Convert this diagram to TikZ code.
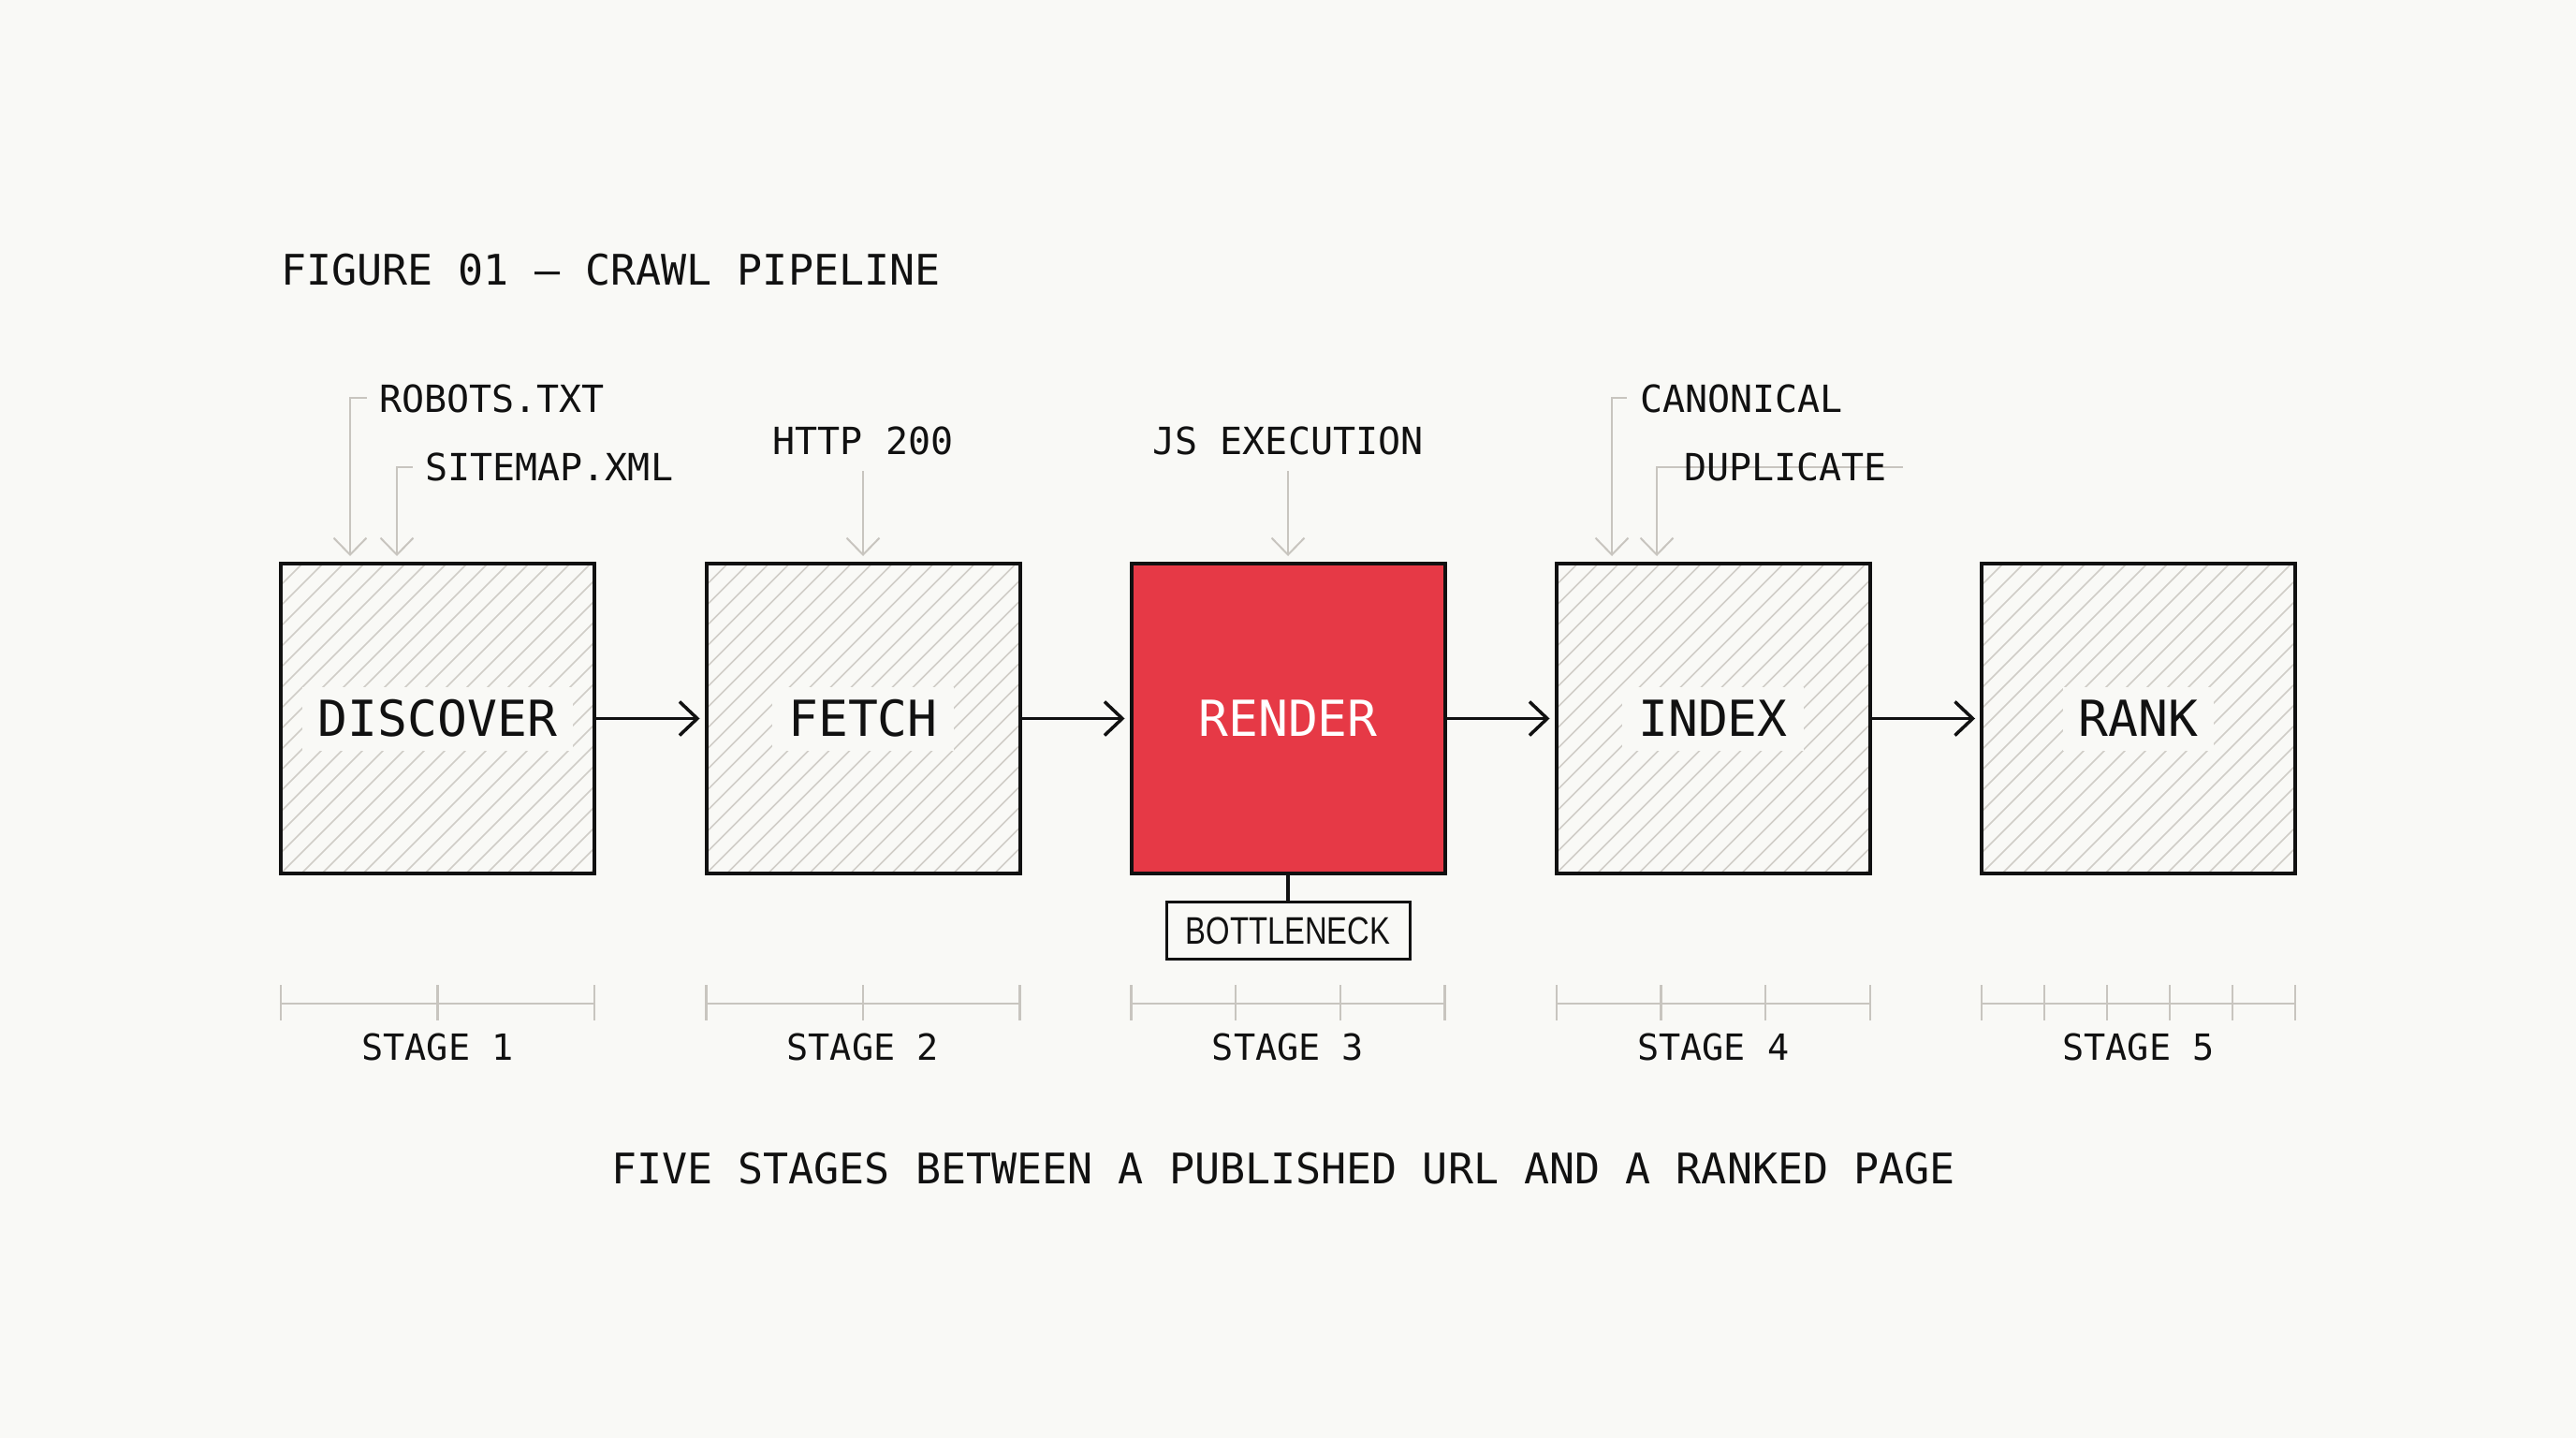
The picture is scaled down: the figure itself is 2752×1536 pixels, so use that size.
\documentclass[tikz,border=0pt]{standalone}
\usepackage{fontspec}
\newfontfamily\monof{DejaVu Sans Mono}
\newfontfamily\narrowf[FakeStretch=0.8]{Liberation Sans}
\usetikzlibrary{arrows.meta,calc}
\definecolor{bg}{HTML}{F9F9F6}
\definecolor{hatchgray}{HTML}{D0CDC7}
\definecolor{annog}{HTML}{C8C5BF}
\definecolor{accent}{HTML}{E63946}
\definecolor{ink}{HTML}{111111}
\begin{document}
\begin{tikzpicture}[x=1pt,y=-1pt,
  stagebox/.style={draw=ink,line width=4pt,minimum width=335pt,minimum height=331pt,inner sep=0pt,fill=bg,
    path picture={\foreach \k in {-17,...,17}{\draw[hatchgray,line width=1.5pt]
      ([xshift=\k*22pt]path picture bounding box.south west) -- ++(420pt,420pt);}}},
  hotbox/.style={draw=ink,line width=4pt,minimum width=335pt,minimum height=331pt,inner sep=0pt,fill=accent},
  boxlabel/.style={font=\monof\fontsize{53pt}{53pt}\selectfont,text=ink,fill=bg,inner xsep=17pt,inner ysep=15pt,text height=38pt,text depth=0pt},
  hotlabel/.style={font=\monof\fontsize{53pt}{53pt}\selectfont,text=white,inner sep=0pt},
  flow/.style={draw=ink,line width=3.5pt,-{Straight Barb[length=19pt,width=36pt]},shorten >=5pt},
  anno/.style={draw=annog,line width=2pt,-{Straight Barb[length=18pt,width=35pt]}},
  annotext/.style={font=\monof\fontsize{40pt}{40pt}\selectfont,text=ink,inner sep=0pt},
  scalebar/.style={draw=annog,line width=2.5pt},
  stagetext/.style={font=\monof\fontsize{38.5pt}{38.5pt}\selectfont,text=ink,inner sep=0pt},
  captext/.style={font=\monof\fontsize{45pt}{45pt}\selectfont,text=ink,inner sep=0pt},
  bneck/.style={draw=ink,line width=3pt,fill=bg,minimum width=260pt,minimum height=61pt,inner sep=0pt,
    font=\narrowf\fontsize{41pt}{41pt}\selectfont,text=ink}
]
\useasboundingbox (0,0) rectangle (2752,1536);
\fill[bg] (0,0) rectangle (2752,1536);

% title
\node[captext,anchor=base west] (title) at (300,304) {FIGURE 01 — CRAWL PIPELINE};

% boxes
\node[stagebox] (b1) at (467.5,767.5) {};
\node[stagebox] (b2) at (922,767.5) {};
\node[hotbox]   (b3) at (1376,767.5) {};
\node[stagebox] (b4) at (1830,767.5) {};
\node[stagebox] (b5) at (2284.5,767.5) {};

\node[boxlabel] (l1) at (b1.center) {DISCOVER};
\node[boxlabel] (l2) at (b2.center) {FETCH};
\node[hotlabel,text height=38pt,text depth=0pt] (l3) at (b3.center) {RENDER};
\node[boxlabel] (l4) at (b4.center) {INDEX};
\node[boxlabel] (l5) at (b5.center) {RANK};

% flow arrows
\draw[flow] (b1.east) -- (b2.west);
\draw[flow] (b2.east) -- (b3.west);
\draw[flow] (b3.east) -- (b4.west);
\draw[flow] (b4.east) -- (b5.west);

% bottleneck
\node[bneck,text height=29pt,text depth=0pt] (bn) at (1376,993.5) {BOTTLENECK};
\draw[draw=ink,line width=3.5pt] (b3.south) -- (bn.north);

% annotations
\coordinate (r0) at (392,425);
\coordinate (r1) at (374,425);
\coordinate (r2) at (374,594);
\draw[anno] (r0) -- (r1) -- (r2);
\node[annotext,anchor=base west] (robots) at (405,440) {ROBOTS.TXT};

\coordinate (s0) at (441,499);
\coordinate (s1) at (424,499);
\coordinate (s2) at (424,594);
\draw[anno] (s0) -- (s1) -- (s2);
\node[annotext,anchor=base west] (sitemap) at (454,513) {SITEMAP.XML};

\node[annotext,anchor=base] (http) at (922,485) {HTTP 200};
\coordinate (h0) at (922,503);
\coordinate (h1) at (922,594);
\draw[anno] (h0) -- (h1);

\node[annotext,anchor=base] (js) at (1376,485) {JS EXECUTION};
\coordinate (j0) at (1376,503);
\coordinate (j1) at (1376,594);
\draw[anno] (j0) -- (j1);

\coordinate (c0) at (1738,425);
\coordinate (c1) at (1722,425);
\coordinate (c2) at (1722,594);
\draw[anno] (c0) -- (c1) -- (c2);
\node[annotext,anchor=base west] (canon) at (1752,440) {CANONICAL};

\coordinate (d0) at (2033,499);
\coordinate (d1) at (1770,499);
\coordinate (d2) at (1770,594);
\draw[anno] (d0) -- (d1) -- (d2);
\node[annotext,anchor=base west] (dup) at (1799,513) {DUPLICATE};

% stage scales
\foreach \i/\n in {1/2,2/2,3/3,4/3,5/5}{
  \pgfmathsetmacro{\xl}{300+454.25*(\i-1)}
  \draw[scalebar] (\xl,1072) -- ++(335,0);
  \foreach \t in {0,...,\n}{
    \draw[scalebar] ({\xl+335*\t/\n},1052) -- ({\xl+335*\t/\n},1090);
  }
  \node[stagetext,anchor=base] (st\i) at ({\xl+167.5},1132) {STAGE \i};
}

% caption
\node[captext,anchor=base] (cap) at (1371,1264) {FIVE STAGES BETWEEN A PUBLISHED URL AND A RANKED PAGE};
\end{tikzpicture}
\end{document}
